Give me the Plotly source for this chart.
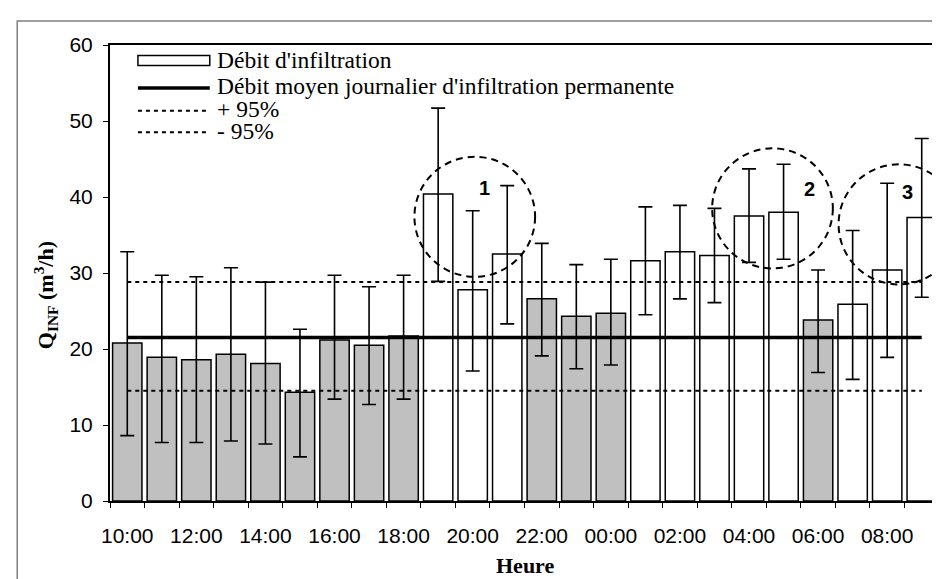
import plotly.graph_objects as go

# ---- data ----
heures = ["10:00", "11:00", "12:00", "13:00", "14:00", "15:00", "16:00", "17:00",
          "18:00", "19:00", "20:00", "21:00", "22:00", "23:00", "00:00", "01:00",
          "02:00", "03:00", "04:00", "05:00", "06:00", "07:00", "08:00", "09:00"]
debit = [20.8, 18.9, 18.6, 19.3, 18.1, 14.3, 21.2, 20.5, 21.7, 40.4, 27.8, 32.5,
         26.6, 24.3, 24.7, 31.6, 32.8, 32.3, 37.5, 38.0, 23.8, 25.9, 30.4, 37.3]
borne_sup = [32.8, 29.7, 29.5, 30.7, 28.8, 22.6, 29.7, 28.2, 29.7, 51.7, 38.2, 41.5,
             33.9, 31.1, 31.8, 38.7, 38.9, 38.5, 43.7, 44.3, 30.4, 35.6, 41.8, 47.7]
borne_inf = [8.6, 7.7, 7.7, 7.9, 7.5, 5.8, 13.4, 12.7, 13.4, 28.9, 17.1, 23.3,
             19.1, 17.4, 17.9, 24.5, 26.6, 26.1, 31.4, 31.8, 16.9, 16.0, 18.9, 26.8]
heures_permanentes = ["10:00", "11:00", "12:00", "13:00", "14:00", "15:00", "16:00",
                      "17:00", "18:00", "22:00", "23:00", "00:00", "06:00"]
debit_moyen = 21.5
plus_95 = 28.8
moins_95 = 14.5
etiquettes_x = ["10:00", "12:00", "14:00", "16:00", "18:00", "20:00", "22:00",
                "00:00", "02:00", "04:00", "06:00", "08:00"]
legende = ["Débit d'infiltration",
           "Débit moyen journalier d'infiltration permanente",
           "+ 95%", "- 95%"]
zones = ["1", "2", "3"]
zones_x = [10.06, 18.68, 22.34]
zones_y = [37.4, 38.5, 36.4]
zones_lbl_x = [10.33, 19.76, 22.58]
zones_lbl_y = [41.2, 41.0, 40.6]

# ---- layout geometry (pixels) ----
W, H = 940, 579
L, R, T, B = 102, 933, 37, 493


def px_x(p):
    return (p - L) / (R - L)


def px_y(p):
    return (B - p) / (B - T)


SERIF = "Liberation Serif"
SANS = "Liberation Sans"

couleurs = ["#C0C0C0" if h in heures_permanentes else "white" for h in heures]

fig = go.Figure()
fig.add_trace(go.Bar(
    x=heures, y=debit,
    marker=dict(color=couleurs, line=dict(color="black", width=1.5)),
    error_y=dict(type="data", symmetric=False,
                 array=[s - v for s, v in zip(borne_sup, debit)],
                 arrayminus=[v - i for v, i in zip(debit, borne_inf)],
                 color="black", thickness=1.6, width=7),
    showlegend=False, hoverinfo="x+y"))

fig.add_trace(go.Scatter(x=[heures[0], heures[-1]], y=[debit_moyen, debit_moyen],
                         mode="lines", line=dict(color="black", width=3.5),
                         showlegend=False))
for v in (plus_95, moins_95):
    fig.add_trace(go.Scatter(x=[heures[0], heures[-1]], y=[v, v], mode="lines",
                             line=dict(color="black", width=2, dash="4px,4px"),
                             showlegend=False))

shapes = []
# dashed circles
rx, ry = 1.747, 7.9
for cx, cy in zip(zones_x, zones_y):
    shapes.append(dict(type="circle", xref="x", yref="y",
                       x0=cx - rx, x1=cx + rx, y0=cy - ry, y1=cy + ry,
                       line=dict(color="black", width=2, dash="7px,5px")))
# outer chart frame
shapes.append(dict(type="rect", xref="paper", yref="paper",
                   x0=px_x(9), x1=px_x(1000), y0=px_y(13), y1=px_y(700),
                   line=dict(color="#808080", width=1.5)))
# custom legend symbols
shapes.append(dict(type="rect", xref="paper", yref="paper",
                   x0=px_x(130), x1=px_x(202), y0=px_y(47.5), y1=px_y(57.5),
                   fillcolor="white", line=dict(color="black", width=1.5)))
shapes.append(dict(type="line", xref="paper", yref="paper",
                   x0=px_x(130), x1=px_x(202), y0=px_y(80), y1=px_y(80),
                   line=dict(color="black", width=3.5)))
for yy in (102.7, 124.3):
    shapes.append(dict(type="line", xref="paper", yref="paper",
                       x0=px_x(130), x1=px_x(202), y0=px_y(yy), y1=px_y(yy),
                       line=dict(color="black", width=2, dash="4px,4px")))

annotations = []
for txt, yy in zip(legende, (52, 78, 101, 123)):
    annotations.append(dict(text=txt, xref="paper", yref="paper",
                            x=px_x(207), y=px_y(yy), xanchor="left", yanchor="middle",
                            showarrow=False, font=dict(family=SERIF, size=23.5, color="black")))
for z, zx, zy in zip(zones, zones_lbl_x, zones_lbl_y):
    annotations.append(dict(text="<b>%s</b>" % z, xref="x", yref="y", x=zx, y=zy,
                            showarrow=False, font=dict(family=SANS, size=20, color="black")))
annotations.append(dict(text="<b>Q<sub>INF</sub> (m<sup>3</sup>/h)</b>", xref="paper",
                        yref="paper", x=px_x(37), y=px_y(287), textangle=-90,
                        xanchor="center", yanchor="middle", showarrow=False,
                        font=dict(family=SERIF, size=22, color="black")))
annotations.append(dict(text="<b>Heure</b>", xref="paper", yref="paper",
                        x=0.5, y=px_y(557), xanchor="center", yanchor="middle",
                        showarrow=False, font=dict(family=SERIF, size=22, color="black")))

fig.update_layout(
    width=W, height=H,
    margin=dict(l=L, r=W - R, t=T, b=H - B),
    paper_bgcolor="white", plot_bgcolor="white",
    bargap=0.15,
    shapes=shapes, annotations=annotations,
    showlegend=False,
    xaxis=dict(type="category", categoryorder="array", categoryarray=heures,
               range=[-0.5, len(heures) - 0.5],
               tickmode="array", tickvals=heures,
               ticktext=[h if h in etiquettes_x else "" for h in heures],
               tickson="boundaries", ticks="outside", ticklen=5, tickwidth=1,
               tickcolor="black", showline=True, linecolor="black", linewidth=2,
               mirror=True, showgrid=False, zeroline=False, tickangle=0,
               tickfont=dict(family=SANS, size=21, color="black"),
               ticklabelstandoff=15),
    yaxis=dict(range=[0, 60], tickmode="array", tickvals=[0, 10, 20, 30, 40, 50, 60],
               ticks="outside", ticklen=5, tickwidth=1, tickcolor="black",
               showline=True, linecolor="black", linewidth=2, mirror=True,
               showgrid=False, zeroline=False,
               tickfont=dict(family=SANS, size=21, color="black"),
               ticklabelstandoff=6),
)

fig.write_html("out.html")
